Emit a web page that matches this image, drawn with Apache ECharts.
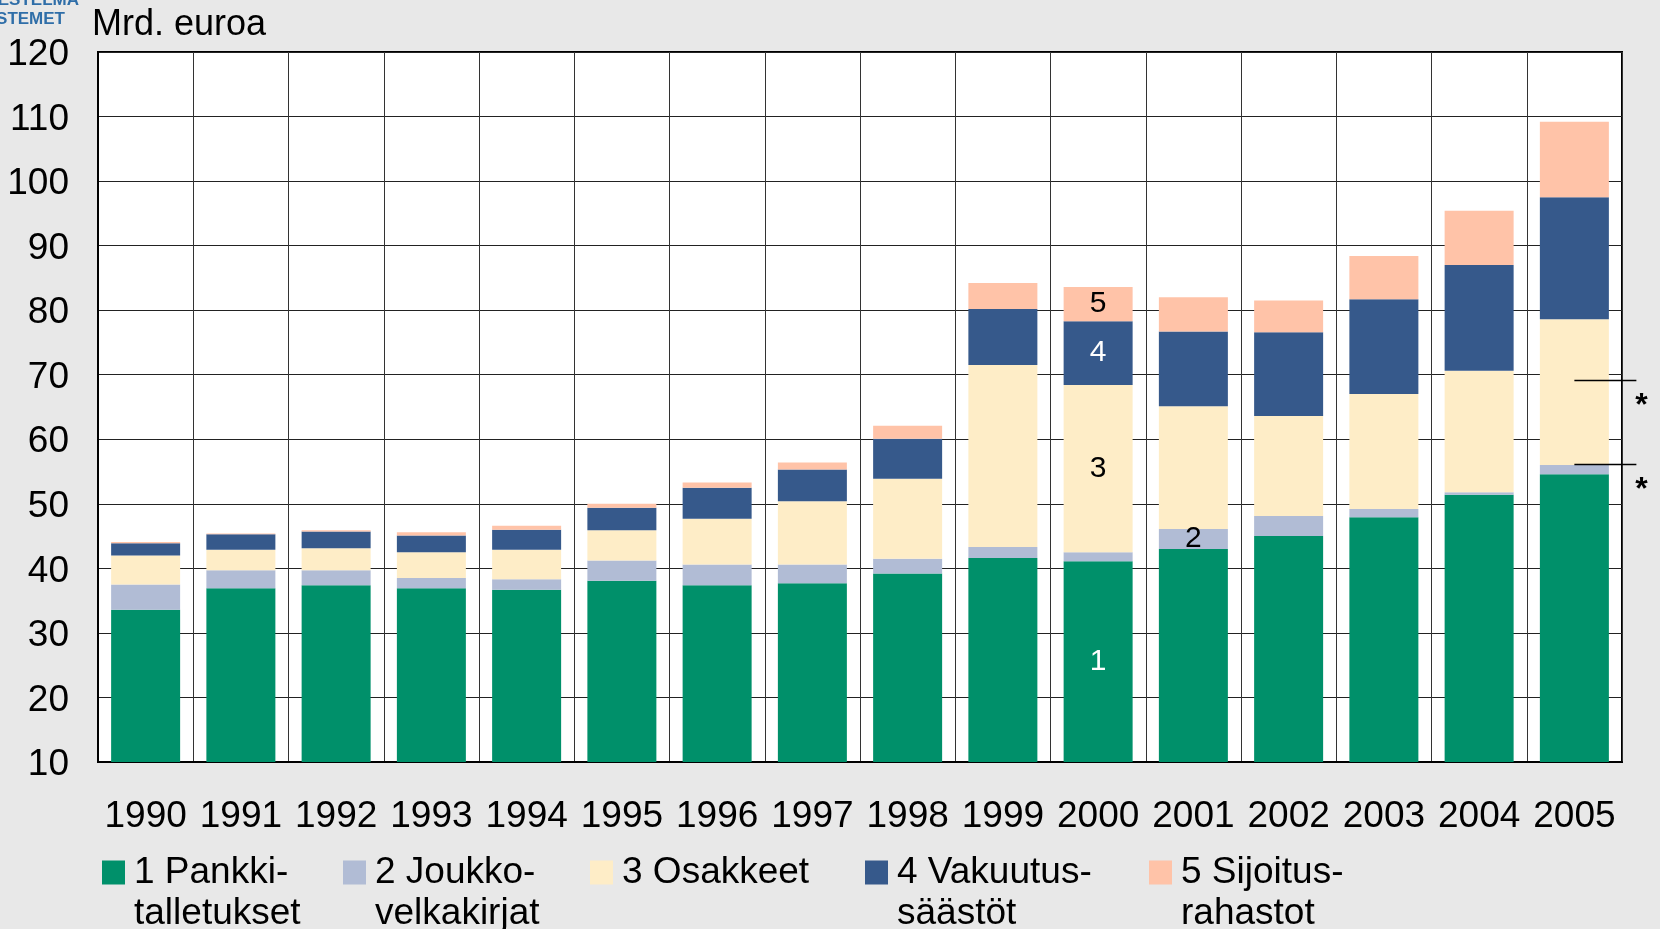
<!DOCTYPE html>
<html>
<head>
<meta charset="utf-8">
<title>Mrd. euroa</title>
<script src="https://cdn.jsdelivr.net/npm/echarts@6/dist/echarts.min.js"></script>
<style>
  html, body { margin: 0; padding: 0; background: #e8e8e8; }
  #main { width: 1660px; height: 929px; }
</style>
</head>
<body>
<div id="main"></div>
<script>
var years = ['1990','1991','1992','1993','1994','1995','1996','1997','1998','1999','2000','2001','2002','2003','2004','2005'];
var pankki   = [33.6, 36.9, 37.4, 36.9, 36.7, 38.1, 37.4, 37.7, 39.2, 41.6, 41.1, 43.0, 45.0, 47.9, 51.4, 54.6];
var joukko   = [3.9, 2.8, 2.3, 1.6, 1.6, 3.1, 3.2, 2.9, 2.3, 1.7, 1.4, 3.1, 3.1, 1.3, 0.4, 1.4];
var osakkeet = [4.5, 3.2, 3.4, 4.0, 4.6, 4.7, 7.1, 9.8, 12.4, 28.2, 25.9, 19.0, 15.5, 17.8, 18.8, 22.6];
var vakuutus = [1.9, 2.4, 2.6, 2.6, 3.1, 3.5, 4.8, 4.9, 6.2, 8.7, 9.9, 11.6, 13.0, 14.7, 16.4, 18.9];
var sijoitus = [0.2, 0.1, 0.2, 0.5, 0.6, 0.6, 0.8, 1.1, 2.0, 4.0, 5.3, 5.3, 4.9, 6.7, 8.4, 11.7];

var names  = ['1 Pankki-\ntalletukset', '2 Joukko-\nvelkakirjat', '3 Osakkeet', '4 Vakuutus-\nsäästöt', '5 Sijoitus-\nrahastot'];
var colors = ['#00906a', '#b1bcd5', '#feedc7', '#36598b', '#ffc3a8'];
// numbers written inside the bars: which year carries them
var segNumbers   = ['1', '2', '3', '4', '5'];
var segNumberYear = ['2000', '2001', '2000', '2000', '2000'];
var segNumberColor = ['#fff', '#000', '#000', '#fff', '#000'];
// the two starred levels at the right of the last bar
var starYear = '2005';
var starLevels = [69.1, 56.1];

var legendLeft = [102, 343, 590, 865, 1149];

var FONT = '"Liberation Sans", Arial, sans-serif';
var allValues = [pankki, joukko, osakkeet, vakuutus, sijoitus];

var series = allValues.map(function (vals, s) {
	return {
		name: names[s],
		type: 'bar',
		stack: 'total',
		barWidth: 69,
		itemStyle: { color: colors[s] },
		data: vals.map(function (v, i) {
			if (years[i] !== segNumberYear[s]) return v;
			return {
				value: v,
				label: {
					show: true,
					position: 'inside',
					formatter: segNumbers[s],
					color: segNumberColor[s],
					fontSize: 30,
					fontFamily: FONT
				}
			};
		})
	};
});

// first text line sits level with the colour box, the second hangs below it
var legends = names.map(function (n, s) {
	return {
		data: [n],
		left: legendLeft[s],
		top: 811,
		padding: 0,
		selectedMode: false,
		icon: 'rect',
		itemWidth: 23,
		itemHeight: 24,
		formatter: function (name) {
			return name.indexOf('\n') >= 0 ? '\n' + name : '\n' + name + '\n';
		},
		textStyle: {
			fontSize: 37,
			fontFamily: FONT,
			color: '#000',
			lineHeight: 41,
			padding: [0, 0, 0, 4]
		}
	};
});

var option = {
	backgroundColor: '#e8e8e8',
	animation: false,
	title: {
		text: 'Mrd. euroa',
		left: 92,
		top: 7,
		padding: 0,
		textStyle: { fontSize: 36, fontWeight: 'normal', color: '#000', fontFamily: FONT }
	},
	legend: legends,
	grid: {
		left: 98, right: 38, top: 52, bottom: 167,
		show: true,
		backgroundColor: '#fff',
		borderColor: '#000',
		borderWidth: 2
	},
	xAxis: {
		type: 'category',
		data: years,
		axisTick: { show: false },
		axisLine: { lineStyle: { color: '#000', width: 2 } },
		axisLabel: { fontSize: 37, color: '#000', fontFamily: FONT, margin: 36, interval: 0 },
		splitLine: { show: true, interval: 0, lineStyle: { color: '#333', width: 1 } }
	},
	yAxis: {
		type: 'value',
		min: 10,
		max: 120,
		interval: 10,
		axisLine: { show: true, lineStyle: { color: '#000', width: 2 } },
		axisTick: { show: false },
		axisLabel: {
			margin: 29,
			formatter: '{v|{value}}',
			rich: { v: { fontSize: 37, color: '#000', fontFamily: FONT, padding: [6, 0, 0, 0] } }
		},
		splitLine: { lineStyle: { color: '#222', width: 1 } }
	},
	series: series
};

var myChart = echarts.init(document.getElementById('main'));
myChart.setOption(option);

var graphics = [
	{
		type: 'text', x: 79, y: -8,
		style: { text: 'RAHOITUSJÄRJESTELMÄ', align: 'right', verticalAlign: 'top', fontSize: 17, fontWeight: 'bold', fill: '#2f6ea8', fontFamily: FONT }
	},
	{
		type: 'text', x: 65, y: 11,
		style: { text: 'FINANSSYSTEMET', align: 'right', verticalAlign: 'top', fontSize: 17, fontWeight: 'bold', fill: '#2f6ea8', fontFamily: FONT }
	}
];
starLevels.forEach(function (lv) {
	var p = myChart.convertToPixel({ gridIndex: 0 }, [starYear, lv]);
	graphics.push({
		type: 'line',
		shape: { x1: p[0], y1: p[1], x2: p[0] + 62, y2: p[1] },
		style: { stroke: '#000', lineWidth: 1.5 },
		z: 10
	});
	graphics.push({
		type: 'text',
		x: p[0] + 67, y: p[1] + 26,
		style: { text: '*', align: 'center', verticalAlign: 'middle', fontSize: 32, fontWeight: 'bold', fill: '#000', fontFamily: FONT },
		z: 10
	});
});
myChart.setOption({ graphic: graphics });
</script>
</body>
</html>
